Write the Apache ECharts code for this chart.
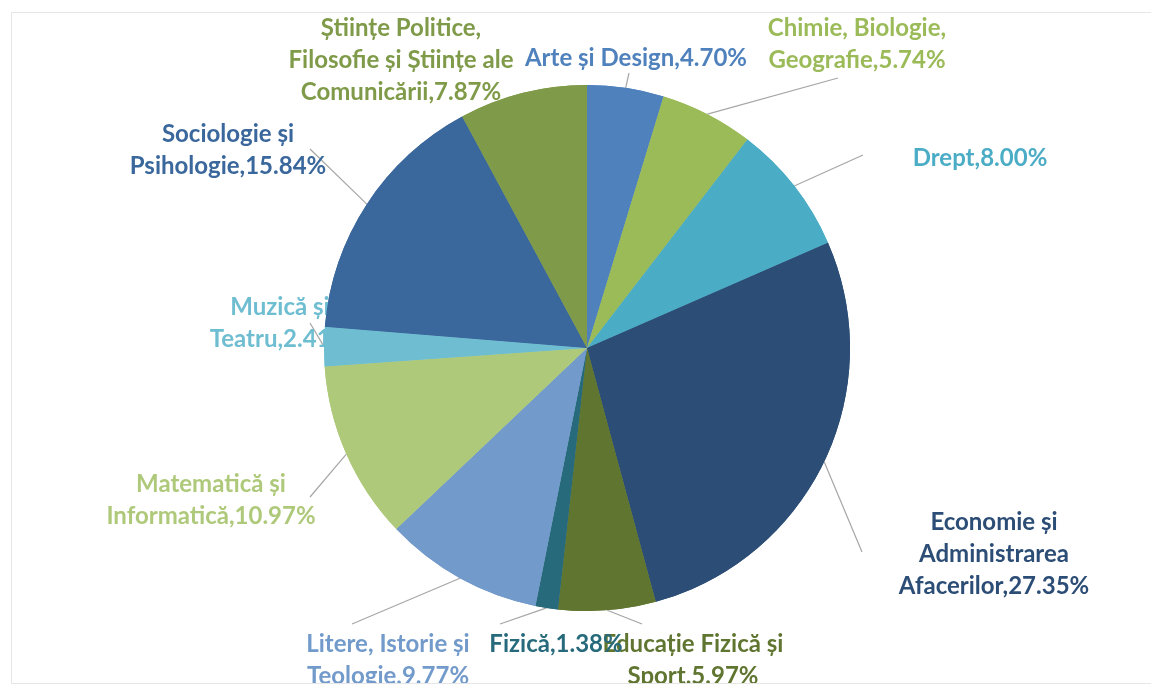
<!DOCTYPE html>
<html><head><meta charset="utf-8">
<script src="https://cdn.jsdelivr.net/npm/echarts@6/dist/echarts.min.js"></script>
<style>html,body{margin:0;padding:0;background:#fff}#c{width:1151px;height:684px}
#frame{position:absolute;left:11px;top:12px;width:1160px;height:670px;border:1px solid #e6e6e6;pointer-events:none}</style>
</head><body><div id="c"></div><div id="frame"></div>
<script>
const categories = [
  'Arte și Design',
  'Chimie, Biologie,\nGeografie',
  'Drept',
  'Economie și\nAdministrarea\nAfacerilor',
  'Educație Fizică și\nSport',
  'Fizică',
  'Litere, Istorie și\nTeologie',
  'Matematică și\nInformatică',
  'Muzică și\nTeatru',
  'Sociologie și\nPsihologie',
  'Științe Politice,\nFilosofie și Științe ale\nComunicării'
];
const values = [4.70, 5.74, 8.00, 27.35, 5.97, 1.38, 9.77, 10.97, 2.41, 15.84, 7.87];
const colors = ['#4F81BD','#9BBB59','#4BACC6','#2C4D75','#5F7530','#276A7C','#729ACA','#AFC97A','#6FBDD1','#3A679C','#7F9A48'];
// label anchor positions (center of text block) in px
const labelPos = [[636,58],[857,44],[980,158],[994,554],[693,660],[556,644],[388,660],[211,500],[280,323],[228,150],[401,60]];
// where each leader line ends (near its label); null = no leader line
const leaderEnd = [[629,73],[838,78],[863,155],[862,552],[642,624],[500,624],[352,624],[310,497],[310,323],[310,149],null];

const chart = echarts.init(document.getElementById('c'));
const data = categories.map((n,i)=>({name:n, value:values[i], itemStyle:{color:colors[i]},
  label:{color:colors[i]}, labelLine:{show: leaderEnd[i] !== null}}));
const common = {type:'pie', center:[587,348], radius:263, startAngle:90, clockwise:true, animation:false};
chart.setOption({
  series:[
    Object.assign({}, common, {
      z:1,
      data: data,
      label:{show:true, fontFamily:'Lato', fontWeight:'bold', fontSize:24, lineHeight:32, align:'center',
        formatter: p => p.name + ',' + p.value.toFixed(2) + '%'},
      labelLine:{show:true, length:30, length2:0, lineStyle:{color:'#A6A6A6', width:1.2}},
      labelLayout: function(p){
        const i = p.dataIndex;
        const pos = labelPos[i];
        const out = {x: pos[0], y: pos[1], align:'center', verticalAlign:'middle'};
        if (leaderEnd[i] && p.labelLinePoints && p.labelLinePoints.length) {
          const a = p.labelLinePoints[0];
          out.labelLinePoints = [[a[0], a[1]], leaderEnd[i]];
        }
        return out;
      }
    }),
    Object.assign({}, common, {
      z:5, silent:true,
      data: data.map(d=>({name:d.name, value:d.value, itemStyle:d.itemStyle})),
      label:{show:false}, labelLine:{show:false}
    })
  ]
});
</script></body></html>
